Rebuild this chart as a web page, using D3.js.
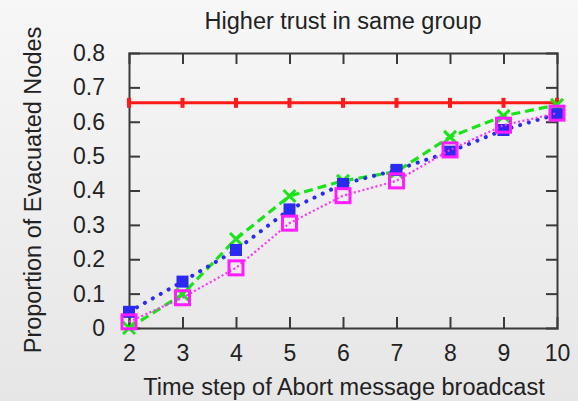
<!DOCTYPE html>
<html><head><meta charset="utf-8">
<script src="https://cdn.jsdelivr.net/npm/d3@7"></script>
<style>
html,body{margin:0;padding:0;background:#eee;}
svg{display:block;font-family:"Liberation Sans",Arial,sans-serif;}
</style></head>
<body>
<script>
const steps = [2, 3, 4, 5, 6, 7, 8, 9, 10];
const yTicks = [0, 0.1, 0.2, 0.3, 0.4, 0.5, 0.6, 0.7, 0.8];
const redVals = [0.655, 0.655, 0.655, 0.655, 0.655, 0.655, 0.655, 0.655, 0.655];
const greenVals = [0.0, 0.098, 0.259, 0.384, 0.428, 0.455, 0.556, 0.617, 0.649];
const blueVals = [0.047, 0.135, 0.227, 0.345, 0.419, 0.46, 0.513, 0.576, 0.622];
const magentaVals = [0.018, 0.088, 0.175, 0.305, 0.385, 0.428, 0.518, 0.59, 0.625];
const titleText = "Higher trust in same group";
const xLabel = "Time step of Abort message broadcast";
const yLabel = "Proportion of Evacuated Nodes";

const W = 578, H = 401;
const m = {l:129, r:557, t:53, b:328};
const svg = d3.select("body").append("svg").attr("width", W).attr("height", H);
const defs = svg.append("defs");
const g = defs.append("linearGradient").attr("id","bg").attr("x1",0).attr("y1",0).attr("x2",0).attr("y2",1);
g.append("stop").attr("offset","0%").attr("stop-color","#f7f7f7");
g.append("stop").attr("offset","100%").attr("stop-color","#e6e6e6");
svg.append("rect").attr("width",W).attr("height",H).attr("fill","url(#bg)");

const x = d3.scaleLinear().domain([2,10]).range([m.l, m.r]);
const y = d3.scaleLinear().domain([0,0.8]).range([m.b, m.t]);

const tickLen = 11;
const fr = svg.append("g");
const axB = fr.append("g").attr("transform",`translate(0,${m.b})`)
  .call(d3.axisBottom(x).tickValues(steps).tickSize(-tickLen).tickPadding(tickLen+17).tickFormat(d3.format("d")));
const axT = fr.append("g").attr("transform",`translate(0,${m.t})`)
  .call(d3.axisTop(x).tickValues(steps).tickSize(-tickLen).tickFormat(""));
const axL = fr.append("g").attr("transform",`translate(${m.l},0)`)
  .call(d3.axisLeft(y).tickValues(yTicks).tickSize(-tickLen).tickPadding(tickLen+13).tickFormat(d => d===0 ? "0" : d3.format(".1f")(d)));
const axR = fr.append("g").attr("transform",`translate(${m.r},0)`)
  .call(d3.axisRight(y).tickValues(yTicks).tickSize(-tickLen).tickFormat(""));
[axB,axT,axL,axR].forEach(a=>{
  a.select(".domain").attr("stroke","#3a3a3a").attr("stroke-width",2);
  a.selectAll(".tick line").attr("stroke","#3a3a3a").attr("stroke-width",2);
  a.selectAll(".tick text").attr("fill","#222").attr("font-size",23).attr("font-family","Liberation Sans, Arial, sans-serif");
});
axB.selectAll(".tick text").attr("dy","0.2em");
axL.selectAll(".tick line").filter(d=>d===0||d===0.8).remove();
axR.selectAll(".tick line").filter(d=>d===0||d===0.8).remove();
axB.selectAll(".tick line").filter(d=>d===2||d===10).remove();
axT.selectAll(".tick line").filter(d=>d===2||d===10).remove();

const line = d3.line().x((d,i)=>x(steps[i])).y(d=>y(d));
const plot = svg.append("g");

plot.append("path").datum(redVals).attr("d",line).attr("fill","none").attr("stroke","#ff1a1a").attr("stroke-width",3);
plot.selectAll(".rm").data(redVals).enter().append("line")
  .attr("x1",(d,i)=>x(steps[i])).attr("x2",(d,i)=>x(steps[i]))
  .attr("y1",d=>y(d)-5).attr("y2",d=>y(d)+5).attr("stroke","#ff1a1a").attr("stroke-width",4);

plot.append("path").datum(greenVals).attr("d",line).attr("fill","none").attr("stroke","#18e418").attr("stroke-width",3.2).attr("stroke-dasharray","9,5");
plot.selectAll(".gm").data(greenVals).enter().append("path")
  .attr("transform",(d,i)=>`translate(${x(steps[i])},${y(d)})`)
  .attr("d","M-6,-6L6,6M-6,6L6,-6").attr("stroke","#18e418").attr("stroke-width",3).attr("fill","none");

plot.append("path").datum(blueVals).attr("d",line).attr("fill","none").attr("stroke","#2a2af0").attr("stroke-width",4).attr("stroke-linecap","round").attr("stroke-dasharray","0.1,9");
plot.selectAll(".bm").data(blueVals).enter().append("rect")
  .attr("x",(d,i)=>x(steps[i])-6).attr("y",d=>y(d)-6).attr("width",12).attr("height",12).attr("fill","#2a2af0");

plot.append("path").datum(magentaVals).attr("d",line).attr("fill","none").attr("stroke","#ff30ff").attr("stroke-width",2.2).attr("stroke-dasharray","2,2.5");
plot.selectAll(".mm").data(magentaVals).enter().append("rect")
  .attr("x",(d,i)=>x(steps[i])-7).attr("y",d=>y(d)-7).attr("width",14).attr("height",14)
  .attr("fill","none").attr("stroke","#ff1cff").attr("stroke-width",3);

svg.append("text").attr("x",(m.l+m.r)/2).attr("y",29).attr("text-anchor","middle")
  .attr("font-size",23.5).attr("fill","#222").text(titleText);
svg.append("text").attr("x",344).attr("y",395).attr("text-anchor","middle")
  .attr("font-size",23.5).attr("fill","#222").text(xLabel);
svg.append("text").attr("transform","translate(41,190) rotate(-90)").attr("text-anchor","middle")
  .attr("font-size",23.5).attr("fill","#222").text(yLabel);
</script>
</body></html>
